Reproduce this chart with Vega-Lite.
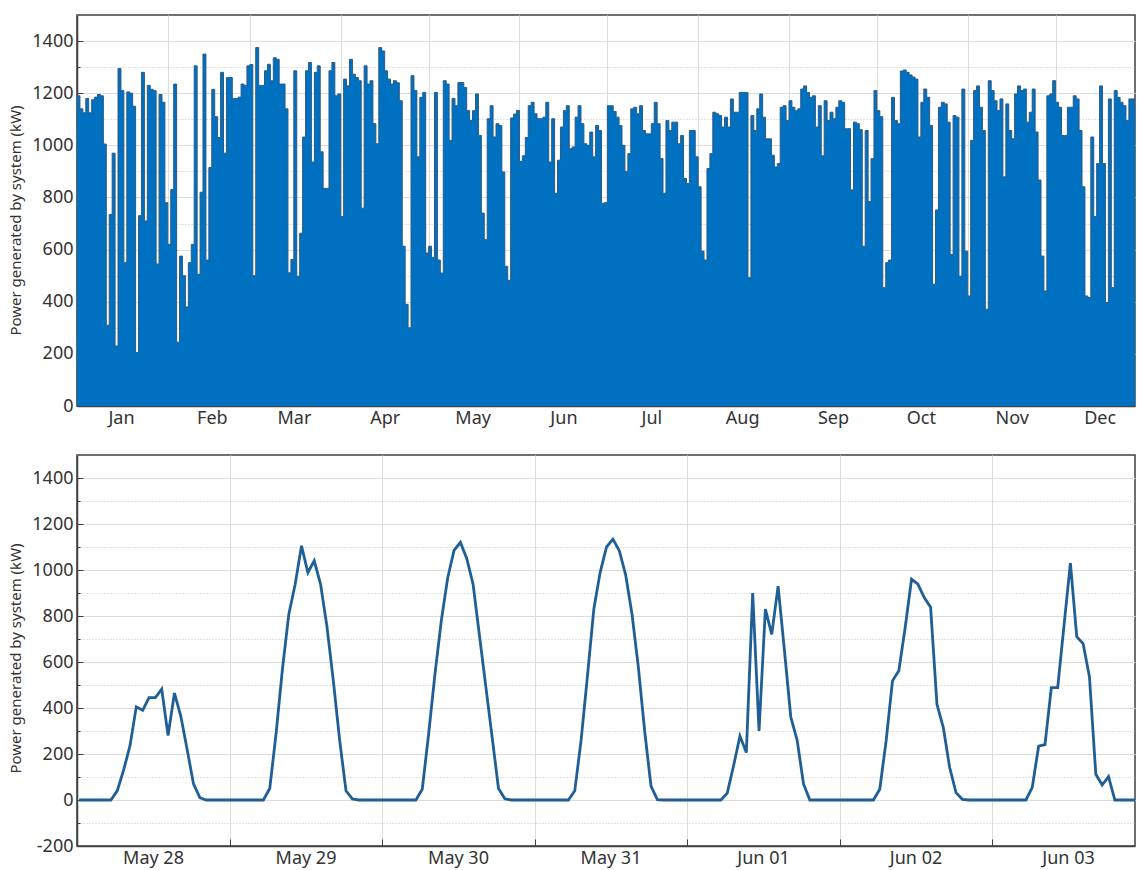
{
 "$schema": "https://vega.github.io/schema/vega-lite/v6.json",
 "padding": {"left": 8, "top": 14, "right": 0, "bottom": 0},
 "background": "white",
 "bounds": "flush",
 "spacing": 49,
 "config": {
  "font": "Noto Sans",
  "view": {"stroke": "#404040", "strokeWidth": 1.5},
  "axis": {"domainColor": "#404040", "domainWidth": 1.5, "labelColor": "#333333", "labelFontSize": 18, "titleColor": "#333333", "titleFontSize": 15, "titleFontWeight": "normal", "gridColor": "#dcdcdc", "tickColor": "#404040"}
 },
 "vconcat": [
  {
   "width": 1058,
   "height": 391,
   "data": {
    "format": {"parse": {"date": "date:'%Y-%m-%d'"}},
    "values": [
{"date":"2015-01-01","kw":1190},{"date":"2015-01-02","kw":1140},{"date":"2015-01-03","kw":1125},{"date":"2015-01-04","kw":1180},{"date":"2015-01-05","kw":1125},{"date":"2015-01-06","kw":1175},{"date":"2015-01-07","kw":1185},{"date":"2015-01-08","kw":1195},{"date":"2015-01-09","kw":1190},{"date":"2015-01-10","kw":1005},{"date":"2015-01-11","kw":310},{"date":"2015-01-12","kw":735},{"date":"2015-01-13","kw":970},{"date":"2015-01-14","kw":230},{"date":"2015-01-15","kw":1295},{"date":"2015-01-16","kw":1210},{"date":"2015-01-17","kw":550},{"date":"2015-01-18","kw":1205},{"date":"2015-01-19","kw":1200},{"date":"2015-01-20","kw":1150},{"date":"2015-01-21","kw":205},{"date":"2015-01-22","kw":730},{"date":"2015-01-23","kw":1280},{"date":"2015-01-24","kw":710},{"date":"2015-01-25","kw":1230},{"date":"2015-01-26","kw":1215},{"date":"2015-01-27","kw":1210},{"date":"2015-01-28","kw":545},{"date":"2015-01-29","kw":1195},{"date":"2015-01-30","kw":1165},{"date":"2015-01-31","kw":780},
{"date":"2015-02-01","kw":620},{"date":"2015-02-02","kw":830},{"date":"2015-02-03","kw":1235},{"date":"2015-02-04","kw":245},{"date":"2015-02-05","kw":575},{"date":"2015-02-06","kw":500},{"date":"2015-02-07","kw":380},{"date":"2015-02-08","kw":550},{"date":"2015-02-09","kw":620},{"date":"2015-02-10","kw":1305},{"date":"2015-02-11","kw":505},{"date":"2015-02-12","kw":820},{"date":"2015-02-13","kw":1350},{"date":"2015-02-14","kw":560},{"date":"2015-02-15","kw":915},{"date":"2015-02-16","kw":1215},{"date":"2015-02-17","kw":1110},{"date":"2015-02-18","kw":1030},{"date":"2015-02-19","kw":1280},{"date":"2015-02-20","kw":970},{"date":"2015-02-21","kw":1260},{"date":"2015-02-22","kw":1260},{"date":"2015-02-23","kw":1180},{"date":"2015-02-24","kw":1180},{"date":"2015-02-25","kw":1185},{"date":"2015-02-26","kw":1235},{"date":"2015-02-27","kw":1230},{"date":"2015-02-28","kw":1305},
{"date":"2015-03-01","kw":1310},{"date":"2015-03-02","kw":500},{"date":"2015-03-03","kw":1375},{"date":"2015-03-04","kw":1230},{"date":"2015-03-05","kw":1230},{"date":"2015-03-06","kw":1286},{"date":"2015-03-07","kw":1311},{"date":"2015-03-08","kw":1248},{"date":"2015-03-09","kw":1336},{"date":"2015-03-10","kw":1330},{"date":"2015-03-11","kw":1235},{"date":"2015-03-12","kw":1235},{"date":"2015-03-13","kw":1140},{"date":"2015-03-14","kw":511},{"date":"2015-03-15","kw":562},{"date":"2015-03-16","kw":1286},{"date":"2015-03-17","kw":498},{"date":"2015-03-18","kw":663},{"date":"2015-03-19","kw":1032},{"date":"2015-03-20","kw":1286},{"date":"2015-03-21","kw":1318},{"date":"2015-03-22","kw":936},{"date":"2015-03-23","kw":1280},{"date":"2015-03-24","kw":1305},{"date":"2015-03-25","kw":975},{"date":"2015-03-26","kw":835},{"date":"2015-03-27","kw":835},{"date":"2015-03-28","kw":1286},{"date":"2015-03-29","kw":1318},{"date":"2015-03-30","kw":1190},{"date":"2015-03-31","kw":1197},
{"date":"2015-04-01","kw":727},{"date":"2015-04-02","kw":1254},{"date":"2015-04-03","kw":1228},{"date":"2015-04-04","kw":1330},{"date":"2015-04-05","kw":1273},{"date":"2015-04-06","kw":1260},{"date":"2015-04-07","kw":1248},{"date":"2015-04-08","kw":759},{"date":"2015-04-09","kw":1305},{"date":"2015-04-10","kw":1235},{"date":"2015-04-11","kw":1248},{"date":"2015-04-12","kw":1083},{"date":"2015-04-13","kw":1006},{"date":"2015-04-14","kw":1375},{"date":"2015-04-15","kw":1362},{"date":"2015-04-16","kw":1286},{"date":"2015-04-17","kw":1254},{"date":"2015-04-18","kw":1235},{"date":"2015-04-19","kw":1248},{"date":"2015-04-20","kw":1240},{"date":"2015-04-21","kw":1171},{"date":"2015-04-22","kw":613},{"date":"2015-04-23","kw":390},{"date":"2015-04-24","kw":300},{"date":"2015-04-25","kw":1267},{"date":"2015-04-26","kw":1210},{"date":"2015-04-27","kw":956},{"date":"2015-04-28","kw":1184},{"date":"2015-04-29","kw":1203},{"date":"2015-04-30","kw":587},
{"date":"2015-05-01","kw":613},{"date":"2015-05-02","kw":570},{"date":"2015-05-03","kw":1203},{"date":"2015-05-04","kw":560},{"date":"2015-05-05","kw":510},{"date":"2015-05-06","kw":1248},{"date":"2015-05-07","kw":1235},{"date":"2015-05-08","kw":1019},{"date":"2015-05-09","kw":1180},{"date":"2015-05-10","kw":1152},{"date":"2015-05-11","kw":1241},{"date":"2015-05-12","kw":1241},{"date":"2015-05-13","kw":1222},{"date":"2015-05-14","kw":1133},{"date":"2015-05-15","kw":1095},{"date":"2015-05-16","kw":1133},{"date":"2015-05-17","kw":1197},{"date":"2015-05-18","kw":1038},{"date":"2015-05-19","kw":740},{"date":"2015-05-20","kw":638},{"date":"2015-05-21","kw":1102},{"date":"2015-05-22","kw":1152},{"date":"2015-05-23","kw":1032},{"date":"2015-05-24","kw":1083},{"date":"2015-05-25","kw":1076},{"date":"2015-05-26","kw":898},{"date":"2015-05-27","kw":536},{"date":"2015-05-28","kw":482},{"date":"2015-05-29","kw":1105},{"date":"2015-05-30","kw":1120},{"date":"2015-05-31","kw":1134},
{"date":"2015-06-01","kw":938},{"date":"2015-06-02","kw":960},{"date":"2015-06-03","kw":1030},{"date":"2015-06-04","kw":1152},{"date":"2015-06-05","kw":1165},{"date":"2015-06-06","kw":1121},{"date":"2015-06-07","kw":1102},{"date":"2015-06-08","kw":1102},{"date":"2015-06-09","kw":1108},{"date":"2015-06-10","kw":1165},{"date":"2015-06-11","kw":936},{"date":"2015-06-12","kw":1102},{"date":"2015-06-13","kw":816},{"date":"2015-06-14","kw":943},{"date":"2015-06-15","kw":1070},{"date":"2015-06-16","kw":1133},{"date":"2015-06-17","kw":1152},{"date":"2015-06-18","kw":987},{"date":"2015-06-19","kw":994},{"date":"2015-06-20","kw":1108},{"date":"2015-06-21","kw":1152},{"date":"2015-06-22","kw":1083},{"date":"2015-06-23","kw":1006},{"date":"2015-06-24","kw":1000},{"date":"2015-06-25","kw":1051},{"date":"2015-06-26","kw":956},{"date":"2015-06-27","kw":1076},{"date":"2015-06-28","kw":1057},{"date":"2015-06-29","kw":778},{"date":"2015-06-30","kw":780},
{"date":"2015-07-01","kw":1152},{"date":"2015-07-02","kw":1152},{"date":"2015-07-03","kw":1130},{"date":"2015-07-04","kw":1108},{"date":"2015-07-05","kw":1076},{"date":"2015-07-06","kw":1000},{"date":"2015-07-07","kw":900},{"date":"2015-07-08","kw":968},{"date":"2015-07-09","kw":1140},{"date":"2015-07-10","kw":1146},{"date":"2015-07-11","kw":1121},{"date":"2015-07-12","kw":1152},{"date":"2015-07-13","kw":1057},{"date":"2015-07-14","kw":1044},{"date":"2015-07-15","kw":1044},{"date":"2015-07-16","kw":1083},{"date":"2015-07-17","kw":1165},{"date":"2015-07-18","kw":1083},{"date":"2015-07-19","kw":949},{"date":"2015-07-20","kw":816},{"date":"2015-07-21","kw":1095},{"date":"2015-07-22","kw":1057},{"date":"2015-07-23","kw":1089},{"date":"2015-07-24","kw":1089},{"date":"2015-07-25","kw":1006},{"date":"2015-07-26","kw":1038},{"date":"2015-07-27","kw":873},{"date":"2015-07-28","kw":854},{"date":"2015-07-29","kw":1057},{"date":"2015-07-30","kw":1057},{"date":"2015-07-31","kw":956},
{"date":"2015-08-01","kw":841},{"date":"2015-08-02","kw":594},{"date":"2015-08-03","kw":560},{"date":"2015-08-04","kw":911},{"date":"2015-08-05","kw":968},{"date":"2015-08-06","kw":1127},{"date":"2015-08-07","kw":1121},{"date":"2015-08-08","kw":1114},{"date":"2015-08-09","kw":1070},{"date":"2015-08-10","kw":1108},{"date":"2015-08-11","kw":1070},{"date":"2015-08-12","kw":1178},{"date":"2015-08-13","kw":1127},{"date":"2015-08-14","kw":1127},{"date":"2015-08-15","kw":1203},{"date":"2015-08-16","kw":1203},{"date":"2015-08-17","kw":1203},{"date":"2015-08-18","kw":492},{"date":"2015-08-19","kw":1114},{"date":"2015-08-20","kw":1057},{"date":"2015-08-21","kw":1140},{"date":"2015-08-22","kw":1197},{"date":"2015-08-23","kw":1108},{"date":"2015-08-24","kw":1025},{"date":"2015-08-25","kw":1025},{"date":"2015-08-26","kw":962},{"date":"2015-08-27","kw":917},{"date":"2015-08-28","kw":930},{"date":"2015-08-29","kw":1146},{"date":"2015-08-30","kw":1152},{"date":"2015-08-31","kw":1095},
{"date":"2015-09-01","kw":1171},{"date":"2015-09-02","kw":1146},{"date":"2015-09-03","kw":1133},{"date":"2015-09-04","kw":1140},{"date":"2015-09-05","kw":1216},{"date":"2015-09-06","kw":1228},{"date":"2015-09-07","kw":1203},{"date":"2015-09-08","kw":1184},{"date":"2015-09-09","kw":1190},{"date":"2015-09-10","kw":1070},{"date":"2015-09-11","kw":1152},{"date":"2015-09-12","kw":960},{"date":"2015-09-13","kw":1171},{"date":"2015-09-14","kw":1095},{"date":"2015-09-15","kw":1127},{"date":"2015-09-16","kw":1102},{"date":"2015-09-17","kw":1146},{"date":"2015-09-18","kw":1171},{"date":"2015-09-19","kw":1165},{"date":"2015-09-20","kw":1064},{"date":"2015-09-21","kw":1064},{"date":"2015-09-22","kw":829},{"date":"2015-09-23","kw":1089},{"date":"2015-09-24","kw":1083},{"date":"2015-09-25","kw":1060},{"date":"2015-09-26","kw":613},{"date":"2015-09-27","kw":1057},{"date":"2015-09-28","kw":784},{"date":"2015-09-29","kw":949},{"date":"2015-09-30","kw":1210},
{"date":"2015-10-01","kw":1133},{"date":"2015-10-02","kw":1110},{"date":"2015-10-03","kw":454},{"date":"2015-10-04","kw":550},{"date":"2015-10-05","kw":560},{"date":"2015-10-06","kw":1184},{"date":"2015-10-07","kw":1095},{"date":"2015-10-08","kw":1083},{"date":"2015-10-09","kw":1285},{"date":"2015-10-10","kw":1289},{"date":"2015-10-11","kw":1280},{"date":"2015-10-12","kw":1270},{"date":"2015-10-13","kw":1262},{"date":"2015-10-14","kw":1254},{"date":"2015-10-15","kw":1032},{"date":"2015-10-16","kw":1165},{"date":"2015-10-17","kw":1216},{"date":"2015-10-18","kw":1184},{"date":"2015-10-19","kw":1076},{"date":"2015-10-20","kw":467},{"date":"2015-10-21","kw":752},{"date":"2015-10-22","kw":1146},{"date":"2015-10-23","kw":1165},{"date":"2015-10-24","kw":1159},{"date":"2015-10-25","kw":1089},{"date":"2015-10-26","kw":581},{"date":"2015-10-27","kw":1114},{"date":"2015-10-28","kw":1108},{"date":"2015-10-29","kw":498},{"date":"2015-10-30","kw":1216},{"date":"2015-10-31","kw":594},
{"date":"2015-11-01","kw":422},{"date":"2015-11-02","kw":1019},{"date":"2015-11-03","kw":1210},{"date":"2015-11-04","kw":1228},{"date":"2015-11-05","kw":1146},{"date":"2015-11-06","kw":1057},{"date":"2015-11-07","kw":371},{"date":"2015-11-08","kw":1248},{"date":"2015-11-09","kw":1210},{"date":"2015-11-10","kw":1171},{"date":"2015-11-11","kw":1133},{"date":"2015-11-12","kw":1178},{"date":"2015-11-13","kw":879},{"date":"2015-11-14","kw":1159},{"date":"2015-11-15","kw":1057},{"date":"2015-11-16","kw":1025},{"date":"2015-11-17","kw":1197},{"date":"2015-11-18","kw":1228},{"date":"2015-11-19","kw":1210},{"date":"2015-11-20","kw":1216},{"date":"2015-11-21","kw":1089},{"date":"2015-11-22","kw":1127},{"date":"2015-11-23","kw":1216},{"date":"2015-11-24","kw":1051},{"date":"2015-11-25","kw":867},{"date":"2015-11-26","kw":575},{"date":"2015-11-27","kw":441},{"date":"2015-11-28","kw":1190},{"date":"2015-11-29","kw":1197},{"date":"2015-11-30","kw":1248},
{"date":"2015-12-01","kw":1165},{"date":"2015-12-02","kw":1146},{"date":"2015-12-03","kw":1038},{"date":"2015-12-04","kw":1038},{"date":"2015-12-05","kw":1146},{"date":"2015-12-06","kw":1146},{"date":"2015-12-07","kw":1190},{"date":"2015-12-08","kw":1178},{"date":"2015-12-09","kw":1057},{"date":"2015-12-10","kw":841},{"date":"2015-12-11","kw":422},{"date":"2015-12-12","kw":416},{"date":"2015-12-13","kw":1032},{"date":"2015-12-14","kw":727},{"date":"2015-12-15","kw":930},{"date":"2015-12-16","kw":1228},{"date":"2015-12-17","kw":930},{"date":"2015-12-18","kw":397},{"date":"2015-12-19","kw":1178},{"date":"2015-12-20","kw":454},{"date":"2015-12-21","kw":1210},{"date":"2015-12-22","kw":1184},{"date":"2015-12-23","kw":1165},{"date":"2015-12-24","kw":1152},{"date":"2015-12-25","kw":1095},{"date":"2015-12-26","kw":1178},{"date":"2015-12-27","kw":1178},{"date":"2015-12-28","kw":1150},{"date":"2015-12-29","kw":1100},{"date":"2015-12-30","kw":1180},{"date":"2015-12-31","kw":1150}
    ]
   },
   "mark": {"type": "area", "interpolate": "step-after", "color": "#0070c0", "opacity": 1, "fillOpacity": 1, "clip": true, "line": {"color": "#2a5a86", "strokeWidth": 1, "clip": true}},
   "encoding": {
    "x": {
     "field": "date", "type": "temporal",
     "scale": {"domain": [{"year": 2015, "month": 1, "date": 1}, {"year": 2015, "month": 12, "date": 28, "hours": 2}]},
     "axis": {
      "title": null,
      "values": [{"year": 2015, "month": 1, "date": 1}, {"year": 2015, "month": 2, "date": 1}, {"year": 2015, "month": 3, "date": 1}, {"year": 2015, "month": 4, "date": 1}, {"year": 2015, "month": 5, "date": 1}, {"year": 2015, "month": 6, "date": 1}, {"year": 2015, "month": 7, "date": 1}, {"year": 2015, "month": 8, "date": 1}, {"year": 2015, "month": 9, "date": 1}, {"year": 2015, "month": 10, "date": 1}, {"year": 2015, "month": 11, "date": 1}, {"year": 2015, "month": 12, "date": 1}],
      "format": "%b", "labelOffset": 44, "labelFlush": false, "labelOverlap": false, "labelBound": false,
      "grid": true, "tickSize": -7, "labelPadding": 10
     }
    },
    "y": {
     "field": "kw", "type": "quantitative",
     "scale": {"domain": [0, 1500], "nice": false},
     "axis": {
      "title": "Power generated by system (kW)",
      "titleY": 205,
      "values": [0, 100, 200, 300, 400, 500, 600, 700, 800, 900, 1000, 1100, 1200, 1300, 1400],
      "labelExpr": "datum.value % 200 === 0 ? '' + datum.value : ''",
      "grid": true,
      "gridDash": {"condition": {"test": "datum.value % 200 !== 0", "value": [1, 2]}, "value": []},
      "gridColor": {"condition": {"test": "datum.value % 200 !== 0", "value": "#c4c4c4"}, "value": "#dcdcdc"},
      "tickSize": {"condition": {"test": "datum.value % 200 !== 0", "value": -3}, "value": -6},
      "labelPadding": 10,
      "titlePadding": 8
     }
    }
   }
  },
  {
   "width": 1058,
   "height": 391,
   "data": {
    "format": {"parse": {"time": "date:'%Y-%m-%d %H:%M'"}},
    "values": [
{"time":"2015-05-28 00:20","kw":0},{"time":"2015-05-28 01:20","kw":0},{"time":"2015-05-28 02:20","kw":0},{"time":"2015-05-28 03:20","kw":0},{"time":"2015-05-28 04:20","kw":0},{"time":"2015-05-28 05:20","kw":0},{"time":"2015-05-28 06:20","kw":40},{"time":"2015-05-28 07:20","kw":130},{"time":"2015-05-28 08:20","kw":235},{"time":"2015-05-28 09:20","kw":405},{"time":"2015-05-28 10:20","kw":390},{"time":"2015-05-28 11:20","kw":445},{"time":"2015-05-28 12:20","kw":445},{"time":"2015-05-28 13:20","kw":482},{"time":"2015-05-28 14:20","kw":280},{"time":"2015-05-28 15:20","kw":465},{"time":"2015-05-28 16:20","kw":365},{"time":"2015-05-28 17:20","kw":220},{"time":"2015-05-28 18:20","kw":70},{"time":"2015-05-28 19:20","kw":10},{"time":"2015-05-28 20:20","kw":0},{"time":"2015-05-28 21:20","kw":0},{"time":"2015-05-28 22:20","kw":0},{"time":"2015-05-28 23:20","kw":0},
{"time":"2015-05-29 00:20","kw":0},{"time":"2015-05-29 01:20","kw":0},{"time":"2015-05-29 02:20","kw":0},{"time":"2015-05-29 03:20","kw":0},{"time":"2015-05-29 04:20","kw":0},{"time":"2015-05-29 05:20","kw":0},{"time":"2015-05-29 06:20","kw":50},{"time":"2015-05-29 07:20","kw":290},{"time":"2015-05-29 08:20","kw":570},{"time":"2015-05-29 09:20","kw":808},{"time":"2015-05-29 10:20","kw":938},{"time":"2015-05-29 11:20","kw":1105},{"time":"2015-05-29 12:20","kw":989},{"time":"2015-05-29 13:20","kw":1040},{"time":"2015-05-29 14:20","kw":938},{"time":"2015-05-29 15:20","kw":755},{"time":"2015-05-29 16:20","kw":520},{"time":"2015-05-29 17:20","kw":260},{"time":"2015-05-29 18:20","kw":40},{"time":"2015-05-29 19:20","kw":5},{"time":"2015-05-29 20:20","kw":0},{"time":"2015-05-29 21:20","kw":0},{"time":"2015-05-29 22:20","kw":0},{"time":"2015-05-29 23:20","kw":0},
{"time":"2015-05-30 00:20","kw":0},{"time":"2015-05-30 01:20","kw":0},{"time":"2015-05-30 02:20","kw":0},{"time":"2015-05-30 03:20","kw":0},{"time":"2015-05-30 04:20","kw":0},{"time":"2015-05-30 05:20","kw":0},{"time":"2015-05-30 06:20","kw":47},{"time":"2015-05-30 07:20","kw":286},{"time":"2015-05-30 08:20","kw":547},{"time":"2015-05-30 09:20","kw":780},{"time":"2015-05-30 10:20","kw":965},{"time":"2015-05-30 11:20","kw":1085},{"time":"2015-05-30 12:20","kw":1120},{"time":"2015-05-30 13:20","kw":1050},{"time":"2015-05-30 14:20","kw":938},{"time":"2015-05-30 15:20","kw":716},{"time":"2015-05-30 16:20","kw":494},{"time":"2015-05-30 17:20","kw":272},{"time":"2015-05-30 18:20","kw":50},{"time":"2015-05-30 19:20","kw":5},{"time":"2015-05-30 20:20","kw":0},{"time":"2015-05-30 21:20","kw":0},{"time":"2015-05-30 22:20","kw":0},{"time":"2015-05-30 23:20","kw":0},
{"time":"2015-05-31 00:20","kw":0},{"time":"2015-05-31 01:20","kw":0},{"time":"2015-05-31 02:20","kw":0},{"time":"2015-05-31 03:20","kw":0},{"time":"2015-05-31 04:20","kw":0},{"time":"2015-05-31 05:20","kw":0},{"time":"2015-05-31 06:20","kw":40},{"time":"2015-05-31 07:20","kw":260},{"time":"2015-05-31 08:20","kw":540},{"time":"2015-05-31 09:20","kw":830},{"time":"2015-05-31 10:20","kw":990},{"time":"2015-05-31 11:20","kw":1100},{"time":"2015-05-31 12:20","kw":1134},{"time":"2015-05-31 13:20","kw":1085},{"time":"2015-05-31 14:20","kw":980},{"time":"2015-05-31 15:20","kw":810},{"time":"2015-05-31 16:20","kw":580},{"time":"2015-05-31 17:20","kw":300},{"time":"2015-05-31 18:20","kw":60},{"time":"2015-05-31 19:20","kw":2},{"time":"2015-05-31 20:20","kw":0},{"time":"2015-05-31 21:20","kw":0},{"time":"2015-05-31 22:20","kw":0},{"time":"2015-05-31 23:20","kw":0},
{"time":"2015-06-01 00:20","kw":0},{"time":"2015-06-01 01:20","kw":0},{"time":"2015-06-01 02:20","kw":0},{"time":"2015-06-01 03:20","kw":0},{"time":"2015-06-01 04:20","kw":0},{"time":"2015-06-01 05:20","kw":0},{"time":"2015-06-01 06:20","kw":30},{"time":"2015-06-01 07:20","kw":150},{"time":"2015-06-01 08:20","kw":278},{"time":"2015-06-01 09:20","kw":206},{"time":"2015-06-01 10:20","kw":900},{"time":"2015-06-01 11:20","kw":300},{"time":"2015-06-01 12:20","kw":830},{"time":"2015-06-01 13:20","kw":720},{"time":"2015-06-01 14:20","kw":930},{"time":"2015-06-01 15:20","kw":650},{"time":"2015-06-01 16:20","kw":360},{"time":"2015-06-01 17:20","kw":260},{"time":"2015-06-01 18:20","kw":70},{"time":"2015-06-01 19:20","kw":0},{"time":"2015-06-01 20:20","kw":0},{"time":"2015-06-01 21:20","kw":0},{"time":"2015-06-01 22:20","kw":0},{"time":"2015-06-01 23:20","kw":0},
{"time":"2015-06-02 00:20","kw":0},{"time":"2015-06-02 01:20","kw":0},{"time":"2015-06-02 02:20","kw":0},{"time":"2015-06-02 03:20","kw":0},{"time":"2015-06-02 04:20","kw":0},{"time":"2015-06-02 05:20","kw":0},{"time":"2015-06-02 06:20","kw":47},{"time":"2015-06-02 07:20","kw":257},{"time":"2015-06-02 08:20","kw":518},{"time":"2015-06-02 09:20","kw":562},{"time":"2015-06-02 10:20","kw":750},{"time":"2015-06-02 11:20","kw":960},{"time":"2015-06-02 12:20","kw":938},{"time":"2015-06-02 13:20","kw":880},{"time":"2015-06-02 14:20","kw":838},{"time":"2015-06-02 15:20","kw":416},{"time":"2015-06-02 16:20","kw":315},{"time":"2015-06-02 17:20","kw":141},{"time":"2015-06-02 18:20","kw":32},{"time":"2015-06-02 19:20","kw":3},{"time":"2015-06-02 20:20","kw":0},{"time":"2015-06-02 21:20","kw":0},{"time":"2015-06-02 22:20","kw":0},{"time":"2015-06-02 23:20","kw":0},
{"time":"2015-06-03 00:20","kw":0},{"time":"2015-06-03 01:20","kw":0},{"time":"2015-06-03 02:20","kw":0},{"time":"2015-06-03 03:20","kw":0},{"time":"2015-06-03 04:20","kw":0},{"time":"2015-06-03 05:20","kw":0},{"time":"2015-06-03 06:20","kw":55},{"time":"2015-06-03 07:20","kw":234},{"time":"2015-06-03 08:20","kw":241},{"time":"2015-06-03 09:20","kw":489},{"time":"2015-06-03 10:20","kw":489},{"time":"2015-06-03 11:20","kw":760},{"time":"2015-06-03 12:20","kw":1030},{"time":"2015-06-03 13:20","kw":710},{"time":"2015-06-03 14:20","kw":680},{"time":"2015-06-03 15:20","kw":535},{"time":"2015-06-03 16:20","kw":112},{"time":"2015-06-03 17:20","kw":65},{"time":"2015-06-03 18:20","kw":102},{"time":"2015-06-03 19:20","kw":0},{"time":"2015-06-03 20:20","kw":0},{"time":"2015-06-03 21:20","kw":0},{"time":"2015-06-03 22:20","kw":0},{"time":"2015-06-03 23:20","kw":0}
    ]
   },
   "mark": {"type": "line", "color": "#1f5f96", "strokeWidth": 2.8, "clip": true},
   "encoding": {
    "x": {
     "field": "time", "type": "temporal",
     "scale": {"domain": [{"year": 2015, "month": 5, "date": 28}, {"year": 2015, "month": 6, "date": 3, "hours": 22, "minutes": 30}]},
     "axis": {
      "title": null,
      "values": [{"year": 2015, "month": 5, "date": 28}, {"year": 2015, "month": 5, "date": 29}, {"year": 2015, "month": 5, "date": 30}, {"year": 2015, "month": 5, "date": 31}, {"year": 2015, "month": 6, "date": 1}, {"year": 2015, "month": 6, "date": 2}, {"year": 2015, "month": 6, "date": 3}],
      "format": "%b %d", "labelOffset": 76, "labelFlush": false, "labelOverlap": false, "labelBound": false,
      "grid": true, "tickSize": -7, "labelPadding": 10
     }
    },
    "y": {
     "field": "kw", "type": "quantitative",
     "scale": {"domain": [-200, 1500], "nice": false},
     "axis": {
      "title": "Power generated by system (kW)",
      "titleY": 203,
      "values": [-200, -100, 0, 100, 200, 300, 400, 500, 600, 700, 800, 900, 1000, 1100, 1200, 1300, 1400],
      "labelExpr": "datum.value % 200 === 0 ? '' + datum.value : ''",
      "grid": true,
      "gridDash": {"condition": {"test": "datum.value % 200 !== 0", "value": [1, 2]}, "value": []},
      "gridColor": {"condition": {"test": "datum.value % 200 !== 0", "value": "#c4c4c4"}, "value": "#dcdcdc"},
      "tickSize": {"condition": {"test": "datum.value % 200 !== 0", "value": -3}, "value": -6},
      "labelPadding": 10,
      "titlePadding": 8
     }
    }
   }
  }
 ]
}
